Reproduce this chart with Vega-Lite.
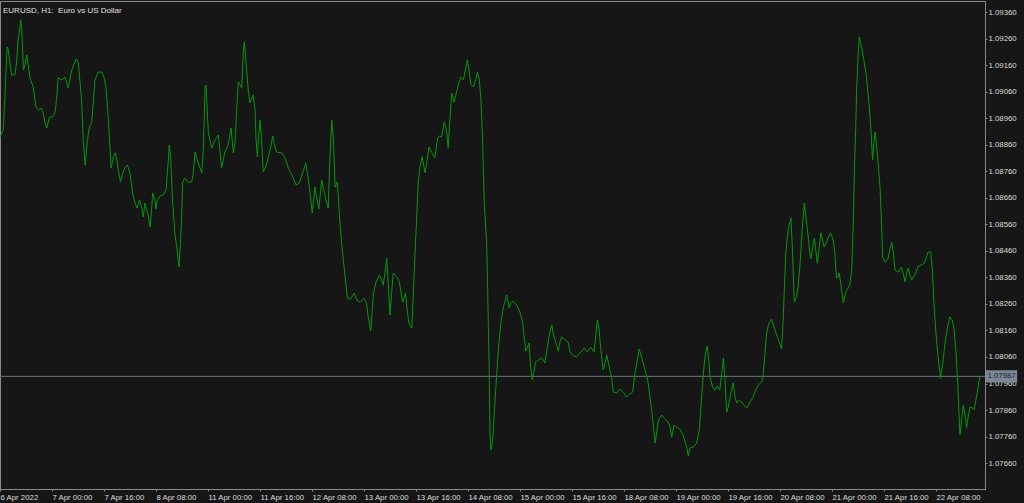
{
  "$schema": "https://vega.github.io/schema/vega-lite/v6.json",
  "width": 985,
  "height": 488,
  "autosize": {"type": "none"},
  "padding": {"left": 0, "top": 1, "right": 39, "bottom": 14},
  "background": "#161616",
  "title": {"text": "EURUSD, H1:\u00a0 Euro vs US Dollar", "anchor": "start", "frame": "group", "orient": "top", "offset": -20, "baseline": "alphabetic", "dx": 3, "font": "Liberation Sans", "fontSize": 8, "fontWeight": "normal", "color": "#e0e0e0"},
  "config": {
    "view": {"stroke": "#8a8a8a", "fill": "#161616"},
    "axis": {"domainColor": "#8a8a8a", "tickColor": "#8a8a8a", "labelColor": "#dcdcdc", "labelFont": "Liberation Sans", "labelFontSize": 7.8, "grid": false, "title": null, "labelOverlap": false, "labelFlush": false, "labelBound": false, "labelSeparation": 0}
  },
  "datasets": {
    "bars": [
{"t":0,"p":1.08890},{"t":1.0,"p":1.08916},{"t":1.5,"p":1.09041},{"t":2.2,"p":1.09230},{"t":2.6,"p":1.09218},{"t":2.9,"p":1.09181},{"t":3.6,"p":1.09124},{"t":4.6,"p":1.09124},{"t":5.1,"p":1.09169},{"t":5.5,"p":1.09245},{"t":6.4,"p":1.09332},{"t":6.7,"p":1.09294},{"t":7.2,"p":1.09143},{"t":7.7,"p":1.09162},{"t":8.2,"p":1.09199},{"t":8.7,"p":1.09162},{"t":9.2,"p":1.09113},{"t":10.2,"p":1.09079},{"t":11.1,"p":1.09003},{"t":11.8,"p":1.08992},{"t":12.8,"p":1.08999},{"t":13.3,"p":1.08981},{"t":13.8,"p":1.08943},{"t":14.4,"p":1.08924},{"t":15.2,"p":1.08965},{"t":16.2,"p":1.08965},{"t":16.9,"p":1.08981},{"t":17.4,"p":1.09030},{"t":17.9,"p":1.09113},{"t":19.0,"p":1.09105},{"t":20.0,"p":1.09116},{"t":21.0,"p":1.09075},{"t":22.1,"p":1.09143},{"t":23.4,"p":1.09184},{"t":24.1,"p":1.09169},{"t":25.1,"p":1.09030},{"t":25.6,"p":1.08879},{"t":26.2,"p":1.08784},{"t":26.9,"p":1.08879},{"t":27.5,"p":1.08928},{"t":28.2,"p":1.08943},{"t":28.7,"p":1.09018},{"t":29.2,"p":1.09105},{"t":30.2,"p":1.09135},{"t":31.3,"p":1.09135},{"t":32.0,"p":1.09116},{"t":32.6,"p":1.09079},{"t":33.3,"p":1.08965},{"t":34.2,"p":1.08773},{"t":34.9,"p":1.08815},{"t":35.4,"p":1.08830},{"t":35.9,"p":1.08811},{"t":36.4,"p":1.08765},{"t":37.1,"p":1.08720},{"t":37.8,"p":1.08754},{"t":38.5,"p":1.08777},{"t":39.2,"p":1.08784},{"t":40.0,"p":1.08754},{"t":40.8,"p":1.08679},{"t":41.5,"p":1.08641},{"t":42.2,"p":1.08622},{"t":42.9,"p":1.08652},{"t":43.6,"p":1.08626},{"t":44.1,"p":1.08588},{"t":44.6,"p":1.08641},{"t":45.1,"p":1.08615},{"t":45.6,"p":1.08596},{"t":46.2,"p":1.08550},{"t":46.7,"p":1.08626},{"t":47.0,"p":1.08679},{"t":47.7,"p":1.08652},{"t":48.0,"p":1.08618},{"t":48.4,"p":1.08652},{"t":49.2,"p":1.08667},{"t":50.2,"p":1.08671},{"t":51.1,"p":1.08690},{"t":51.8,"p":1.08803},{"t":52.1,"p":1.08860},{"t":52.5,"p":1.08815},{"t":53.1,"p":1.08652},{"t":53.8,"p":1.08528},{"t":54.4,"p":1.08475},{"t":55.1,"p":1.08399},{"t":55.4,"p":1.08464},{"t":55.9,"p":1.08588},{"t":56.2,"p":1.08720},{"t":56.9,"p":1.08735},{"t":57.9,"p":1.08720},{"t":59.0,"p":1.08720},{"t":59.5,"p":1.08754},{"t":60.0,"p":1.08833},{"t":61.0,"p":1.08792},{"t":62.1,"p":1.08754},{"t":62.6,"p":1.08852},{"t":63.1,"p":1.09079},{"t":63.4,"p":1.09086},{"t":64.1,"p":1.08909},{"t":65.1,"p":1.08848},{"t":66.2,"p":1.08879},{"t":67.2,"p":1.08898},{"t":68.2,"p":1.08773},{"t":69.2,"p":1.08833},{"t":70.2,"p":1.08860},{"t":71.1,"p":1.08924},{"t":71.8,"p":1.08830},{"t":72.3,"p":1.08867},{"t":72.8,"p":1.08981},{"t":73.3,"p":1.09098},{"t":74.4,"p":1.09075},{"t":74.9,"p":1.09218},{"t":75.2,"p":1.09249},{"t":75.9,"p":1.09143},{"t":76.4,"p":1.09067},
{"t":76.9,"p":1.09018},{"t":77.9,"p":1.09049},{"t":78.5,"p":1.08992},{"t":78.8,"p":1.08879},{"t":79.2,"p":1.08815},{"t":79.5,"p":1.08879},{"t":80.0,"p":1.08954},{"t":80.5,"p":1.08879},{"t":81.0,"p":1.08758},{"t":81.8,"p":1.08777},{"t":82.6,"p":1.08815},{"t":83.3,"p":1.08852},{"t":83.9,"p":1.08894},{"t":84.6,"p":1.08852},{"t":85.1,"p":1.08833},{"t":86.7,"p":1.08830},{"t":87.7,"p":1.08811},{"t":88.7,"p":1.08773},{"t":90.1,"p":1.08739},{"t":91.1,"p":1.08709},{"t":92.1,"p":1.08716},{"t":93.1,"p":1.08754},{"t":94.1,"p":1.08792},{"t":94.9,"p":1.08728},{"t":95.4,"p":1.08679},{"t":96.1,"p":1.08603},{"t":96.9,"p":1.08701},{"t":97.4,"p":1.08664},{"t":98.1,"p":1.08618},{"t":99.0,"p":1.08728},{"t":99.5,"p":1.08698},{"t":100.3,"p":1.08652},{"t":101.0,"p":1.08622},{"t":101.5,"p":1.08803},{"t":102.1,"p":1.08954},{"t":102.6,"p":1.08879},{"t":103.1,"p":1.08701},{"t":103.8,"p":1.08720},{"t":104.4,"p":1.08603},{"t":105.1,"p":1.08490},{"t":106.2,"p":1.08362},{"t":106.9,"p":1.08282},{"t":107.9,"p":1.08279},{"t":109.0,"p":1.08301},{"t":109.8,"p":1.08275},{"t":110.8,"p":1.08267},{"t":112.0,"p":1.08282},{"t":112.8,"p":1.08264},{"t":113.3,"p":1.08211},{"t":114.1,"p":1.08158},{"t":114.4,"p":1.08211},{"t":114.9,"p":1.08301},{"t":115.7,"p":1.08343},{"t":116.7,"p":1.08369},{"t":117.2,"p":1.08358},{"t":117.9,"p":1.08331},{"t":118.5,"p":1.08380},{"t":119.0,"p":1.08433},{"t":119.5,"p":1.08331},{"t":120.0,"p":1.08218},{"t":120.5,"p":1.08301},{"t":121.0,"p":1.08377},{"t":122.1,"p":1.08362},{"t":122.9,"p":1.08343},{"t":123.3,"p":1.08312},{"t":123.9,"p":1.08267},{"t":124.3,"p":1.08282},{"t":124.8,"p":1.08301},{"t":125.3,"p":1.08237},{"t":125.8,"p":1.08188},{"t":126.7,"p":1.08169},{"t":127.2,"p":1.08301},{"t":127.7,"p":1.08452},{"t":128.2,"p":1.08577},{"t":128.7,"p":1.08716},{"t":129.2,"p":1.08777},{"t":129.9,"p":1.08815},{"t":130.8,"p":1.08754},{"t":131.3,"p":1.08792},{"t":132.0,"p":1.08852},{"t":132.8,"p":1.08833},{"t":133.8,"p":1.08811},{"t":134.7,"p":1.08886},{"t":135.2,"p":1.08894},{"t":135.9,"p":1.08890},{"t":136.7,"p":1.08947},{"t":137.2,"p":1.08924},{"t":137.6,"p":1.08890},{"t":137.9,"p":1.08848},{"t":138.5,"p":1.08965},{"t":139.0,"p":1.09056},{"t":139.7,"p":1.09022},{"t":140.5,"p":1.09060},{"t":141.3,"p":1.09098},{"t":141.8,"p":1.09116},{"t":142.6,"p":1.09105},{"t":143.1,"p":1.09135},{"t":143.8,"p":1.09181},{"t":144.3,"p":1.09143},{"t":144.9,"p":1.09086},{"t":145.6,"p":1.09079},{"t":146.4,"p":1.09105},{"t":146.9,"p":1.09135},{"t":147.5,"p":1.09105},{"t":148.0,"p":1.09030},{"t":148.5,"p":1.08879},{"t":149.0,"p":1.08652},{"t":149.8,"p":1.08475},{"t":150.2,"p":1.08226},{"t":150.5,"p":1.08037},{"t":150.8,"p":1.07758},{"t":151.1,"p":1.07709},{"t":151.6,"p":1.07746},{"t":152.1,"p":1.07848},{"t":152.6,"p":1.07947},{"t":153.0,"p":1.08022},{"t":153.4,"p":1.08097},{"t":154.1,"p":1.08188},{"t":154.9,"p":1.08248},{"t":155.9,"p":1.08294},{"t":156.7,"p":1.08245},{"t":157.1,"p":1.08264},{"t":157.9,"p":1.08271},{"t":159.0,"p":1.08256},{"t":160.0,"p":1.08230},{"t":160.8,"p":1.08192},{"t":161.3,"p":1.08135},{"t":161.8,"p":1.08082},{"t":162.2,"p":1.08094},{"t":162.8,"p":1.08113},{"t":163.3,"p":1.08022},{"t":163.8,"p":1.07973},{"t":164.3,"p":1.08003},{"t":164.8,"p":1.08041},{"t":165.6,"p":1.08048},{"t":166.7,"p":1.08056},{"t":167.7,"p":1.08037},{"t":168.5,"p":1.08105},{"t":169.2,"p":1.08154},{"t":169.8,"p":1.08180},{"t":170.2,"p":1.08150},{"t":171.1,"p":1.08113},{"t":171.8,"p":1.08082},{"t":172.3,"p":1.08116},{"t":172.8,"p":1.08135},{"t":173.8,"p":1.08127},{"t":174.9,"p":1.08113},{"t":175.4,"p":1.08079},{"t":176.4,"p":1.08064},{"t":177.4,"p":1.08060},{"t":178.5,"p":1.08075},{"t":179.8,"p":1.08094},{"t":180.7,"p":1.08079},{"t":181.8,"p":1.08097},{"t":182.8,"p":1.08079},{"t":183.4,"p":1.08150},{"t":183.8,"p":1.08199},{"t":184.3,"p":1.08169},{"t":184.9,"p":1.08086},{"t":185.6,"p":1.08011},{"t":186.2,"p":1.08037},{"t":186.7,"p":1.08067},{"t":187.5,"p":1.08022},{"t":188.2,"p":1.07980},{"t":188.7,"p":1.07928},{"t":189.8,"p":1.07924},{"t":190.8,"p":1.07939},{"t":191.8,"p":1.07928},{"t":192.8,"p":1.07909},{"t":193.8,"p":1.07920},{"t":194.7,"p":1.07928},{"t":195.4,"p":1.07999},{"t":196.1,"p":1.08048},{"t":196.7,"p":1.08090},{"t":197.4,"p":1.08060},{"t":198.5,"p":1.08011},{"t":199.3,"p":1.07973},{"t":200.0,"p":1.07909},{"t":200.8,"p":1.07833},{"t":201.6,"p":1.07735},{"t":202.1,"p":1.07777},{"t":202.6,"p":1.07822},{"t":203.6,"p":1.07841},{"t":204.6,"p":1.07826},{"t":205.6,"p":1.07814},{"t":206.2,"p":1.07796},{"t":206.7,"p":1.07758},{"t":207.4,"p":1.07803},{"t":208.2,"p":1.07796},{"t":209.2,"p":1.07788},{"t":210.2,"p":1.07765},{"t":211.3,"p":1.07720},{"t":211.8,"p":1.07686},{"t":212.3,"p":1.07716},{"t":213.3,"p":1.07720},{"t":214.4,"p":1.07735},{"t":215.2,"p":1.07784},{"t":215.9,"p":1.07909},{"t":216.6,"p":1.08022},{"t":217.2,"p":1.08079},{"t":217.6,"p":1.08101},{"t":218.1,"p":1.08048},{"t":218.5,"p":1.07984},{"t":219.3,"p":1.07947},{"t":220.0,"p":1.07935},{"t":220.7,"p":1.07950},{"t":221.5,"p":1.07935},{"t":222.1,"p":1.07999},{"t":222.6,"p":1.08056},{"t":223.1,"p":1.07973},{"t":223.6,"p":1.07852},{"t":224.1,"p":1.07871},{"t":224.8,"p":1.07916},{"t":225.6,"p":1.07962},{"t":226.2,"p":1.07909},{"t":226.7,"p":1.07886},{"t":227.5,"p":1.07897},{"t":228.2,"p":1.07890},{"t":228.9,"p":1.07878},{"t":229.8,"p":1.07867},{"t":230.6,"p":1.07886},{"t":231.6,"p":1.07905},{"t":232.3,"p":1.07928},{"t":233.3,"p":1.07954},{"t":234.4,"p":1.07965},{"t":234.9,"p":1.07999},{"t":235.4,"p":1.08075},{"t":235.9,"p":1.08150},{"t":236.6,"p":1.08188},{"t":237.4,"p":1.08203},{"t":238.2,"p":1.08173},{"t":239.0,"p":1.08143},{"t":239.8,"p":1.08116},{"t":240.5,"p":1.08090},{"t":241.0,"p":1.08199},{"t":241.3,"p":1.08301},{"t":241.8,"p":1.08452},{"t":242.6,"p":1.08547},{"t":243.4,"p":1.08584},{"t":243.9,"p":1.08452},{"t":244.4,"p":1.08267},{"t":245.1,"p":1.08286},{"t":245.6,"p":1.08324},{"t":246.2,"p":1.08414},{"t":246.9,"p":1.08550},{"t":247.5,"p":1.08641},{"t":248.0,"p":1.08588},{"t":248.7,"p":1.08513},{"t":249.2,"p":1.08452},{"t":249.5,"p":1.08430},{"t":250.1,"p":1.08475},{"t":250.6,"p":1.08509},{"t":251.0,"p":1.08464},{"t":251.5,"p":1.08414},{"t":252.1,"p":1.08475},{"t":252.6,"p":1.08528},{"t":253.1,"p":1.08501},{"t":253.6,"p":1.08475},{"t":254.4,"p":1.08494},{"t":254.9,"p":1.08513},{"t":255.6,"p":1.08528},{"t":256.4,"p":1.08501},{"t":256.9,"p":1.08452},{"t":257.4,"p":1.08358},{"t":257.9,"p":1.08362},{"t":258.2,"p":1.08377},{"t":258.7,"p":1.08339},{"t":259.5,"p":1.08264},{"t":260.3,"p":1.08305},{"t":261.0,"p":1.08320},{"t":261.5,"p":1.08331},{"t":262.1,"p":1.08388},{"t":262.6,"p":1.08577},{"t":262.9,"p":1.08765},{"t":263.3,"p":1.08916},{"t":263.6,"p":1.09067},{"t":264.1,"p":1.09207},{"t":264.4,"p":1.09267},{"t":265.1,"p":1.09230},{"t":265.8,"p":1.09181},{"t":266.5,"p":1.09131},{"t":267.0,"p":1.09067},{"t":267.5,"p":1.09003},{"t":268.0,"p":1.08916},{"t":268.5,"p":1.08803},{"t":268.9,"p":1.08867},{"t":269.3,"p":1.08909},{"t":269.8,"p":1.08852},{"t":270.2,"p":1.08792},{"t":270.8,"p":1.08701},{"t":271.3,"p":1.08550},{"t":271.6,"p":1.08437},{"t":272.3,"p":1.08418},{"t":273.3,"p":1.08433},{"t":273.8,"p":1.08464},{"t":274.4,"p":1.08494},{"t":274.9,"p":1.08452},{"t":275.4,"p":1.08388},{"t":276.4,"p":1.08380},{"t":277.4,"p":1.08399},{"t":277.9,"p":1.08377},{"t":278.5,"p":1.08343},{"t":279.0,"p":1.08377},{"t":279.5,"p":1.08396},{"t":280.0,"p":1.08369},{"t":280.5,"p":1.08350},{"t":281.5,"p":1.08369},{"t":282.6,"p":1.08403},{"t":283.6,"p":1.08407},{"t":284.4,"p":1.08414},{"t":285.1,"p":1.08437},{"t":285.6,"p":1.08456},{"t":286.4,"p":1.08456},{"t":286.9,"p":1.08388},{"t":287.4,"p":1.08264},{"t":288.0,"p":1.08150},{"t":288.7,"p":1.08056},{"t":289.4,"p":1.07980},{"t":290.1,"p":1.08037},{"t":290.8,"p":1.08113},{"t":291.5,"p":1.08169},{"t":292.3,"p":1.08211},{"t":293.0,"p":1.08199},{"t":293.5,"p":1.08173},{"t":294.2,"p":1.08075},{"t":294.7,"p":1.07962},{"t":295.1,"p":1.07848},{"t":295.4,"p":1.07765},{"t":295.9,"p":1.07822},{"t":296.4,"p":1.07878},{"t":296.9,"p":1.07848},{"t":297.4,"p":1.07792},{"t":297.9,"p":1.07833},{"t":298.5,"p":1.07871},{"t":299.3,"p":1.07867},{"t":299.7,"p":1.07860},{"t":300.3,"p":1.07897},{"t":301.0,"p":1.07947},{"t":301.5,"p":1.07987}
    ],
    "last": [{"t0": 303.4, "t1": 313.0, "hi": 1.08010, "lo": 1.07964, "p": 1.07987, "label": "1.07987", "tx": 303.9}]
  },
  "layer": [
    {
      "data": {"name": "last"},
      "mark": {"type": "rule", "color": "#6b7280", "strokeWidth": 1},
      "encoding": {"y": {"field": "p", "type": "quantitative"}}
    },
    {
      "data": {"name": "bars"},
      "mark": {"type": "line", "color": "#03980a", "strokeWidth": 1, "interpolate": "linear"},
      "encoding": {
        "x": {"field": "t", "type": "quantitative", "scale": {"domain": [0, 303.1], "zero": false, "nice": false},
          "axis": {"orient": "bottom", "values": [0,16,32,48,64,80,96,112,128,144,160,176,192,208,224,240,256,272,288], "tickCount": 40,
            "labelExpr": "['6 Apr 2022','7 Apr 00:00','7 Apr 16:00','8 Apr 08:00','11 Apr 00:00','11 Apr 16:00','12 Apr 08:00','13 Apr 00:00','13 Apr 16:00','14 Apr 08:00','15 Apr 00:00','15 Apr 16:00','18 Apr 08:00','19 Apr 00:00','19 Apr 16:00','20 Apr 08:00','21 Apr 00:00','21 Apr 16:00','22 Apr 08:00'][round(datum.value/16)]",
            "labelAlign": "left", "labelBaseline": "top", "labelPadding": 2, "tickSize": 2, "labelOverlap": false}},
        "y": {"field": "p", "type": "quantitative", "scale": {"domain": [1.07562, 1.09403], "zero": false, "nice": false},
          "axis": {"orient": "right", "values": [1.0766,1.0776,1.0786,1.0796,1.0806,1.0816,1.0826,1.0836,1.0846,1.0856,1.0866,1.0876,1.0886,1.0896,1.0906,1.0916,1.0926,1.0936], "tickCount": 40,
            "format": ".5f", "labelAlign": "left", "labelBaseline": "middle", "labelPadding": 1, "tickSize": 2, "labelOverlap": false, "labelSeparation": 0}}
      }
    },
    {
      "data": {"name": "last"},
      "mark": {"type": "rect", "color": "#7b8794"},
      "encoding": {
        "x": {"field": "t0", "type": "quantitative"},
        "x2": {"field": "t1"},
        "y": {"field": "hi", "type": "quantitative"},
        "y2": {"field": "lo"}
      }
    },
    {
      "data": {"name": "last"},
      "mark": {"type": "text", "align": "left", "baseline": "middle", "font": "Liberation Sans", "fontSize": 7.8, "color": "#1c2430"},
      "encoding": {
        "x": {"field": "tx", "type": "quantitative"},
        "y": {"field": "p", "type": "quantitative"},
        "text": {"field": "label"}
      }
    }
  ]
}
